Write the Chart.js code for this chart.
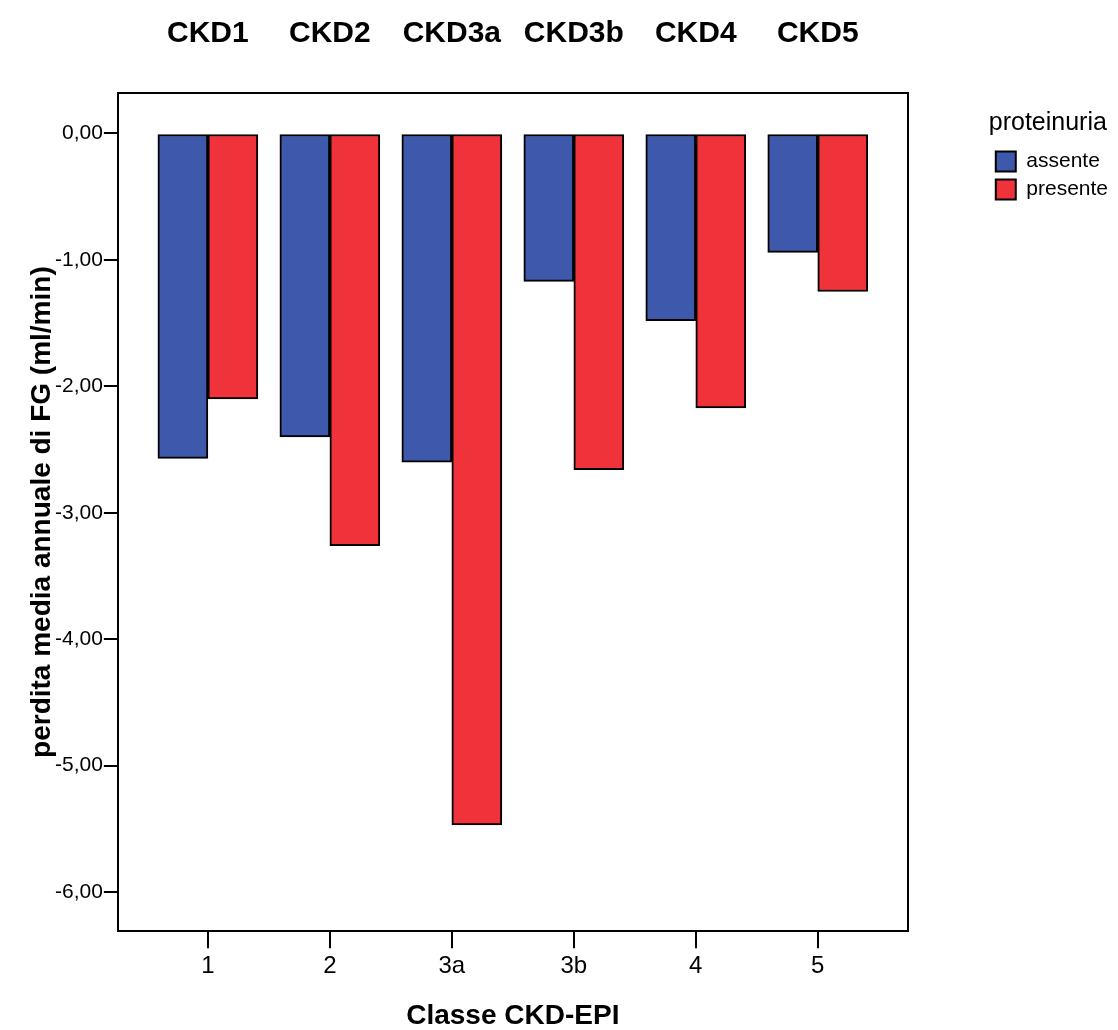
<!DOCTYPE html>
<html>
<head>
<meta charset="utf-8">
<title>perdita media annuale di FG</title>
<script src="https://cdn.jsdelivr.net/npm/chart.js@4/dist/chart.umd.min.js"></script>
<style>
    html, body { margin: 0; padding: 0; background: #fff; }
    #wrap { width: 1118px; height: 1030px; }
</style>
</head>
<body>
<div id="wrap"><canvas id="fgChart" width="1118" height="1030"></canvas></div>
<script>
// #############################################################################
// Data

const classLabels = ["1", "2", "3a", "3b", "4", "5"];
const stageLabels = ["CKD1", "CKD2", "CKD3a", "CKD3b", "CKD4", "CKD5"];
const assenteValues = [-2.57, -2.40, -2.60, -1.17, -1.48, -0.94];
const presenteValues = [-2.10, -3.26, -5.47, -2.66, -2.17, -1.25];
const yTicks = [0, -1, -2, -3, -4, -5, -6];

// #############################################################################
// Chart

Chart.defaults.font.family = "'Liberation Sans', Arial, sans-serif";
Chart.defaults.color = "#000";

// bars sit on a linear x axis so the outer margins match the original
const xMin = -0.738;
const xMax = classLabels.length - 1 + 0.738;

const toPoints = (values) => values.map((v, i) => ({ x: i, y: v }));
const classTicks = function (scale) {
    scale.ticks = classLabels.map((label, i) => ({ value: i }));
};

const ctx = document.getElementById("fgChart").getContext("2d");
const chart = new Chart(ctx, {
    type: "bar",
    data: {
        datasets: [
            {
                label: "assente",
                data: toPoints(assenteValues),
                backgroundColor: "#3E58AC",
                borderColor: "#000",
                borderWidth: 2,
                borderSkipped: false,
                barThickness: 50,
            },
            {
                label: "presente",
                data: toPoints(presenteValues),
                backgroundColor: "#F0323A",
                borderColor: "#000",
                borderWidth: 2,
                borderSkipped: false,
                barThickness: 50,
            },
        ],
    },
    options: {
        responsive: false,
        animation: false,
        // top is negative: the CKD label axis needs twice its padding in height
        layout: { padding: { top: -25, left: 22, right: 0, bottom: 0 } },
        plugins: {
            tooltip: { enabled: false },
            legend: {
                position: "right",
                align: "start",
                fullSize: false,
                title: {
                    display: true,
                    text: "proteinuria",
                    position: "start",
                    color: "#000",
                    font: { size: 25 },
                    padding: { top: 18, bottom: 3 },
                },
                labels: {
                    boxWidth: 20,
                    boxHeight: 20,
                    padding: 7,
                    color: "#000",
                    font: { size: 21 },
                },
            },
        },
        scales: {
            x: {
                type: "linear",
                position: "bottom",
                min: xMin,
                max: xMax,
                offset: false,
                afterBuildTicks: classTicks,
                grid: {
                    offset: false,
                    drawOnChartArea: false,
                    color: "#000",
                    lineWidth: 2,
                    tickLength: 17,
                },
                border: { color: "#000", width: 2 },
                ticks: {
                    padding: 4,
                    maxRotation: 0,
                    autoSkip: false,
                    font: { size: 24 },
                    callback: (value) => classLabels[value],
                },
                title: {
                    display: true,
                    text: "Classe CKD-EPI",
                    font: { size: 28, weight: "bold", lineHeight: 1 },
                    padding: { top: 17, bottom: 0 },
                },
            },
            x2: {
                type: "linear",
                position: "top",
                min: xMin,
                max: xMax,
                offset: false,
                afterBuildTicks: classTicks,
                grid: { display: false, drawTicks: false, offset: false },
                border: { color: "#000", width: 2 },
                ticks: {
                    padding: 41,
                    maxRotation: 0,
                    autoSkip: false,
                    font: { size: 30, weight: "bold" },
                    callback: (value) => stageLabels[value],
                },
            },
            y: {
                type: "linear",
                min: -6.31,
                max: 0.32,
                afterBuildTicks: function (scale) {
                    scale.ticks = yTicks.map((v) => ({ value: v }));
                },
                grid: {
                    drawOnChartArea: false,
                    color: "#000",
                    lineWidth: 2,
                    tickLength: 14,
                },
                border: { color: "#000", width: 2 },
                ticks: {
                    padding: 1,
                    font: { size: 21 },
                    callback: (value) => value.toFixed(2).replace(".", ","),
                },
                title: {
                    display: true,
                    text: "perdita media annuale di FG (ml/min)",
                    font: { size: 28, weight: "bold", lineHeight: 1 },
                    padding: { top: 6, bottom: -2 },
                },
            },
            // empty axis: closes the frame on the right and keeps the gap before the legend
            yRight: {
                type: "linear",
                position: "right",
                display: true,
                grid: { display: false, drawTicks: false },
                border: { color: "#000", width: 2 },
                ticks: { display: false },
                afterFit: function (scale) {
                    scale.width = 81;
                },
            },
        },
    },
});
</script>
</body>
</html>
